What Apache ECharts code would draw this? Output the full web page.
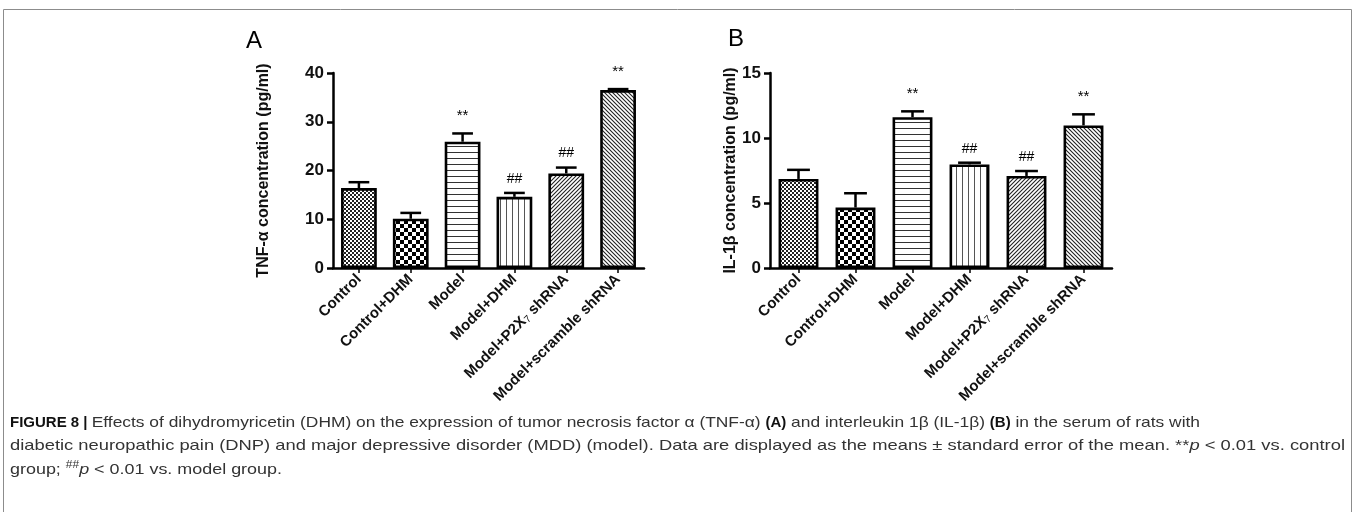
<!DOCTYPE html>
<html>
<head>
<meta charset="utf-8">
<script src="https://cdn.jsdelivr.net/npm/echarts@6/dist/echarts.min.js"></script>
<style>
html,body{margin:0;padding:0;background:#fff;}
#c{width:1355px;height:512px;}
</style>
</head>
<body>
<div id="c"></div>
<script>
// ---- data ----
const categories = ['Control', 'Control+DHM', 'Model', 'Model+DHM', 'Model+P2X7 shRNA', 'Model+scramble shRNA'];
const tnfMean = [16.4, 10.1, 25.9, 14.6, 19.4, 36.5];
const tnfSem  = [1.2, 1.2, 1.7, 0.8, 1.2, 0.2];
const il1Mean = [6.85, 4.65, 11.6, 7.97, 7.08, 10.97];
const il1Sem  = [0.7, 1.1, 0.45, 0.13, 0.38, 0.85];
const tnfMarks = ['', '', '**', '##', '##', '**'];
const il1Marks = ['', '', '**', '##', '##', '**'];
const tnfTicks = {min: 0, max: 40, interval: 10};
const il1Ticks = {min: 0, max: 15, interval: 5};

// caption lines as [style, text] segments
const captionLines = [
  [['b', 'FIGURE 8 | '], ['n', 'Effects of dihydromyricetin (DHM) on the expression of tumor necrosis factor α (TNF-α) '], ['b', '(A)'],
   ['n', ' and interleukin 1β (IL-1β) '], ['b', '(B)'], ['n', ' in the serum of rats with']],
  [['n', 'diabetic neuropathic pain (DNP) and major depressive disorder (MDD) (model). Data are displayed as the means ± standard error of the mean. **'],
   ['i', 'p'], ['n', ' < 0.01 vs. control']],
  [['n', 'group; '], ['sup', '##'], ['i', 'p'], ['n', ' < 0.01 vs. model group.']]
];
const captionRightEdges = [1200, 1345, 282];

// ---- patterns ----
function makePattern(kind) {
  const c = document.createElement('canvas');
  const ctx = c.getContext('2d');
  let s;
  if (kind === 'fineCheck') {
    s = 4; c.width = s; c.height = s;
    ctx.fillStyle = '#fff'; ctx.fillRect(0, 0, s, s);
    ctx.fillStyle = '#222'; ctx.fillRect(0, 0, 2, 2); ctx.fillRect(2, 2, 2, 2);
  } else if (kind === 'coarseCheck') {
    s = 8; c.width = s; c.height = s;
    ctx.fillStyle = '#fff'; ctx.fillRect(0, 0, s, s);
    ctx.fillStyle = '#000'; ctx.fillRect(0, 0, 4, 4); ctx.fillRect(4, 4, 4, 4);
  } else if (kind === 'hLines') {
    s = 6; c.width = s; c.height = s;
    ctx.fillStyle = '#fff'; ctx.fillRect(0, 0, s, s);
    ctx.fillStyle = '#333'; ctx.fillRect(0, 2, s, 1);
  } else if (kind === 'vLines') {
    s = 6; c.width = s; c.height = s;
    ctx.fillStyle = '#fff'; ctx.fillRect(0, 0, s, s);
    ctx.fillStyle = '#555'; ctx.fillRect(2, 0, 1, s);
  } else if (kind === 'diagUp' || kind === 'diagDown') {
    s = 4; c.width = s; c.height = s;
    ctx.fillStyle = '#fff'; ctx.fillRect(0, 0, s, s);
    ctx.strokeStyle = '#222'; ctx.lineWidth = 1.1;
    ctx.beginPath();
    if (kind === 'diagUp') {
      ctx.moveTo(0, s); ctx.lineTo(s, 0);
      ctx.moveTo(-1, 1); ctx.lineTo(1, -1);
      ctx.moveTo(s - 1, s + 1); ctx.lineTo(s + 1, s - 1);
    } else {
      ctx.moveTo(0, 0); ctx.lineTo(s, s);
      ctx.moveTo(-1, s - 1); ctx.lineTo(1, s + 1);
      ctx.moveTo(s - 1, -1); ctx.lineTo(s + 1, 1);
    }
    ctx.stroke();
  }
  return {image: c, repeat: 'repeat'};
}
const patternKinds = ['fineCheck', 'coarseCheck', 'hLines', 'vLines', 'diagUp', 'diagDown'];
const patterns = patternKinds.map(makePattern);

// ---- helpers ----
const FONT = '"Liberation Sans", Arial, sans-serif';
function catLabel(v) {
  if (v.indexOf('P2X7') >= 0) {
    const parts = v.split('P2X7');
    return parts[0] + 'P2X' + '{sub|7}' + '{n|' + parts[1] + '}';
  }
  return v;
}

function buildPanel(idx, grid, means, sems, marks, ticks, yName, nameGap, barW) {
  const axisLine = {show: true, lineStyle: {color: '#000', width: 2.5}};
  return {
    grid: Object.assign({outerBoundsMode: 'none', containLabel: false}, grid),
    xAxis: {
      type: 'category', gridIndex: idx, data: categories,
      axisLine: axisLine,
      axisTick: {show: true, alignWithLabel: true, length: 5, lineStyle: {color: '#000', width: 1.5}},
      axisLabel: {
        interval: 0, rotate: 45, margin: 9, color: '#111', fontFamily: FONT,
        fontWeight: 'bold', fontSize: 15, formatter: catLabel,
        rich: {
          sub: {fontSize: 10, fontWeight: 'normal', color: '#111', fontFamily: FONT, verticalAlign: 'bottom', padding: [6, 0, 0, 0]},
          n: {fontSize: 15, fontWeight: 'bold', color: '#111', fontFamily: FONT}
        }
      },
      splitLine: {show: false}
    },
    yAxis: {
      type: 'value', gridIndex: idx, min: ticks.min, max: ticks.max, interval: ticks.interval,
      axisLine: axisLine,
      axisTick: {show: true, length: 6, lineStyle: {color: '#000', width: 2.5}},
      axisLabel: {color: '#111', fontFamily: FONT, fontWeight: 'bold', fontSize: 17, margin: 9},
      splitLine: {show: false},
      name: yName, nameLocation: 'middle', nameGap: nameGap,
      nameTextStyle: {color: '#111', fontFamily: FONT, fontWeight: 'bold', fontSize: 16}
    },
    series: [
      {
        type: 'bar', xAxisIndex: idx, yAxisIndex: idx, barWidth: barW,
        data: means.map((v, i) => ({value: v, itemStyle: {color: patterns[i]}})),
        itemStyle: {borderColor: '#000', borderWidth: 2.6},
        silent: true, z: 2
      },
      {
        type: 'custom', xAxisIndex: idx, yAxisIndex: idx, z: 3, silent: true,
        data: means.map((v, i) => [i, v, v + sems[i], marks[i]]),
        renderItem: function (params, api) {
          const x = api.value(0);
          const top = api.coord([x, api.value(1)]);
          const err = api.coord([x, api.value(2)]);
          const band = api.size([1, 0])[0];
          const cap = band * 0.4;
          const children = [
            {type: 'line', shape: {x1: top[0], y1: top[1], x2: err[0], y2: err[1]}, style: {stroke: '#000', lineWidth: 2.5}},
            {type: 'line', shape: {x1: err[0] - cap / 2, y1: err[1], x2: err[0] + cap / 2, y2: err[1]}, style: {stroke: '#000', lineWidth: 2.5}}
          ];
          const m = api.value(3);
          if (m) {
            children.push({
              type: 'text',
              style: {
                text: m, x: err[0], y: err[1] - (m === '**' ? 10 : 7),
                align: 'center', verticalAlign: 'bottom',
                font: (m === '**' ? '15px ' : '14px ') + FONT, fill: '#000'
              }
            });
          }
          return {type: 'group', children: children};
        }
      }
    ]
  };
}

const A = buildPanel(0, {left: 333, top: 73, width: 311, height: 195}, tnfMean, tnfSem, tnfMarks, tnfTicks,
  'TNF-α concentration (pg/ml)', 61, '69%');
const B = buildPanel(1, {left: 770, top: 73, width: 342, height: 195}, il1Mean, il1Sem, il1Marks, il1Ticks,
  'IL-1β concentration (pg/ml)', 29, '70%');

// caption layout: measure segments, stretch the regular text so each line ends where the reference does
const capFonts = {
  b: 'bold 15px ' + FONT,
  n: '15px ' + FONT,
  i: 'italic 15px ' + FONT,
  sup: '10px ' + FONT
};
const mctx = document.createElement('canvas').getContext('2d');
function measure(style, text) { mctx.font = capFonts[style]; return mctx.measureText(text).width; }
const capY = [423, 446, 470];
const capLeft = 10;
const captionGraphics = [];
captionLines.forEach((segs, k) => {
  let boldW = 0, normW = 0;
  segs.forEach(([st, t]) => { const w = measure(st, t); if (st === 'b') boldW += w; else normW += w; });
  const sx = (captionRightEdges[k] - capLeft - boldW) / normW;
  let x = capLeft;
  segs.forEach(([st, t]) => {
    const w = measure(st, t);
    const scale = st === 'b' ? 1 : sx;
    captionGraphics.push({
      type: 'text', silent: true, x: x, y: capY[k] + (st === 'sup' ? -5 : 0), scaleX: scale,
      style: {text: t, font: capFonts[st], fill: st === 'b' ? '#111' : '#333', align: 'left', verticalAlign: 'middle'}
    });
    x += w * scale;
  });
});

const chart = echarts.init(document.getElementById('c'), null, {renderer: 'canvas'});
chart.setOption({
  backgroundColor: '#fff',
  animation: false,
  grid: [A.grid, B.grid],
  xAxis: [A.xAxis, B.xAxis],
  yAxis: [A.yAxis, B.yAxis],
  series: A.series.concat(B.series),
  graphic: [
    {type: 'rect', silent: true, shape: {x: 3.5, y: 9.5, width: 1348, height: 520},
      style: {fill: 'none', stroke: '#8c8c8c', lineWidth: 1}},
    {type: 'text', left: 246, top: 29, style: {text: 'A', font: '24px ' + FONT, fill: '#000'}},
    {type: 'text', left: 728, top: 27, style: {text: 'B', font: '24px ' + FONT, fill: '#000'}}
  ].concat(captionGraphics)
});
</script>
</body>
</html>
